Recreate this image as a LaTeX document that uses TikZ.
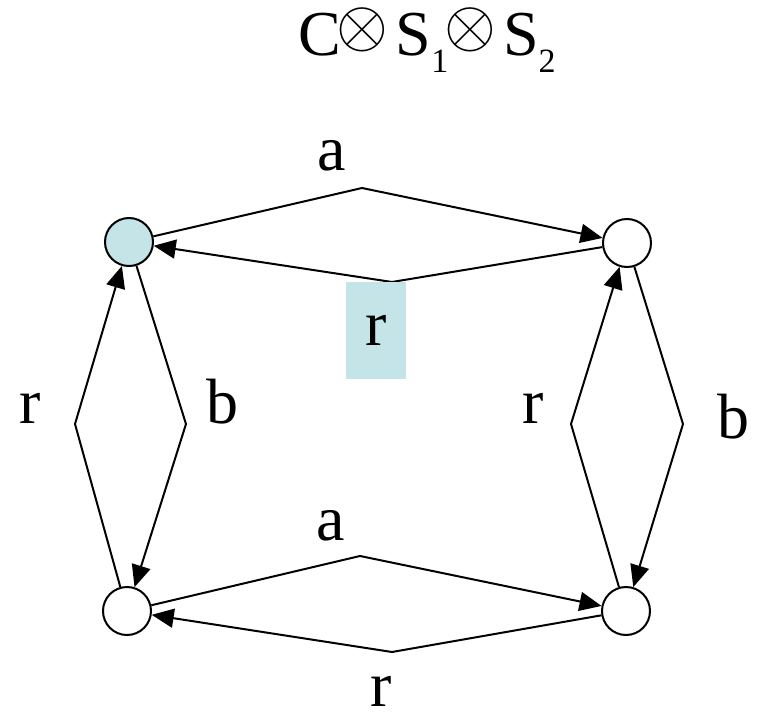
\documentclass[tikz,border=0pt]{standalone}
\usepackage{fontspec}
\setmainfont{Liberation Serif}
\usetikzlibrary{arrows.meta}
\definecolor{InitFill}{HTML}{C5E4E7}
\newcommand\prodsym{\hspace{-2pt}\raisebox{4.2pt}{\scalebox{3.33}{\fontsize{10}{10}\selectfont$\otimes$}}\hspace{3.5pt}}
\newcommand\lowidx[1]{\raisebox{-8.5pt}{\fontsize{17}{17}\selectfont #1}}

\begin{document}
\begin{tikzpicture}[
  x=0.5pt,y=-0.5pt,
  state/.style={draw,circle,line width=1pt,minimum size=24pt,inner sep=0pt},
  init/.style={state,fill=InitFill},
  lbl/.style={font=\fontsize{32}{38}\selectfont,inner sep=0pt,anchor=base},
  tag/.style={fill=InitFill,minimum width=30pt,minimum height=48.5pt,inner sep=0pt,font=\fontsize{32}{38}\selectfont},
  arr/.style={-{Triangle[length=11pt,width=9.5pt]},line width=1pt}
]
\useasboundingbox (0,0) rectangle (762,718);
\node[lbl] (title) at (427,55) {C\prodsym S\lowidx{1}\prodsym S\lowidx{2}};
\node[init] (q0) at (129,242) {};
\node[state] (q1) at (627,243) {};
\node[state] (q2) at (127,611) {};
\node[state] (q3) at (626,611) {};
% bend points
\coordinate (ta) at (362,188);
\coordinate (tr) at (392,282);
\coordinate (ba) at (360,556);
\coordinate (br) at (392,652);
\coordinate (lr) at (75,424);
\coordinate (lb) at (186,424);
\coordinate (rr) at (571,424);
\coordinate (rb) at (683,424);
\draw[arr] (q0) -- (ta) -- (q1);
\draw[arr] (q1) -- (tr) -- (q0);
\draw[arr] (q2) -- (ba) -- (q3);
\draw[arr] (q3) -- (br) -- (q2);
\draw[arr] (q2) -- (lr) -- (q0);
\draw[arr] (q0) -- (lb) -- (q2);
\draw[arr] (q3) -- (rr) -- (q1);
\draw[arr] (q1) -- (rb) -- (q3);
\node[tag] (rbox) at (376,330) {r};
\node[lbl] (la1) at (332,170) {a};
\node[lbl] (la2) at (331,540) {a};
\node[lbl] (lr1) at (30,423) {r};
\node[lbl] (lb1) at (222,423) {b};
\node[lbl] (lr2) at (533,423) {r};
\node[lbl] (lb2) at (733,438) {b};
\node[lbl] (lr3) at (381,706) {r};
\end{tikzpicture}
\end{document}
